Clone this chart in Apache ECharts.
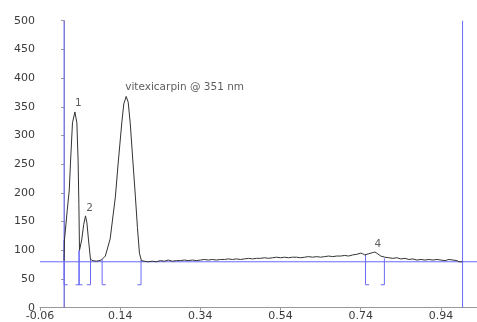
<!DOCTYPE html>
<html>
<head>
<meta charset="utf-8">
<script src="https://cdn.jsdelivr.net/npm/echarts@6/dist/echarts.min.js"></script>
<style>
  html, body { margin: 0; padding: 0; background: #fff; }
  #chart { width: 477px; height: 322px; }
</style>
</head>
<body>
<div id="chart"></div>
<script>
// Retention time (min) and detector response of the trace
const traceTime = [
  0.000, 0.001, 0.008, 0.013, 0.016, 0.021, 0.027, 0.032, 0.035, 0.037, 0.0385,
  0.044, 0.049, 0.0535, 0.057, 0.061, 0.066, 0.072, 0.080, 0.087, 0.093,
  0.103, 0.115, 0.128, 0.135, 0.144, 0.149, 0.155, 0.160, 0.165, 0.172, 0.178, 0.183, 0.188, 0.193,
  0.20, 0.21, 0.22, 0.23, 0.24, 0.25, 0.26, 0.27, 0.28, 0.29,
  0.30, 0.31, 0.32, 0.33, 0.34, 0.35, 0.36, 0.37, 0.38, 0.39,
  0.40, 0.41, 0.42, 0.43, 0.44, 0.45, 0.46, 0.47, 0.48, 0.49,
  0.50, 0.51, 0.52, 0.53, 0.54, 0.55, 0.56, 0.57, 0.58, 0.59,
  0.60, 0.61, 0.62, 0.63, 0.64, 0.65, 0.66, 0.67, 0.68, 0.69,
  0.70, 0.71, 0.72, 0.73, 0.74, 0.745, 0.75, 0.76, 0.77, 0.775, 0.78, 0.79,
  0.80, 0.81, 0.82, 0.83, 0.84, 0.85, 0.86, 0.87, 0.88, 0.89,
  0.90, 0.91, 0.92, 0.93, 0.94, 0.95, 0.96, 0.97, 0.98, 0.985, 0.994
];
const traceSignal = [
  82, 118, 170, 205, 252, 322, 341, 322, 257, 180, 100,
  118, 145, 160, 148, 118, 84, 82, 81, 82, 83,
  90, 120, 193, 252, 322, 355, 368, 358, 322, 252, 193, 140, 95, 82,
  81, 80, 81, 80, 82, 81, 83, 81, 82, 82,
  83, 82, 83, 82, 83, 84, 83, 84, 83, 84,
  84, 85, 84, 85, 84, 85, 86, 85, 86, 86,
  87, 86, 87, 88, 87, 88, 87, 88, 88, 87,
  88, 89, 88, 89, 88, 89, 90, 89, 90, 90,
  91, 90, 92, 93, 95, 94, 92, 94, 96, 97, 95, 90,
  88, 87, 86, 87, 85, 86, 84, 85, 83, 84,
  83, 84, 83, 84, 83, 82, 84, 83, 82, 80, 80
];

// Integration baseline level and window limits
const baselineLevel = 80;
const windowLimits = [0.0, 0.994];

// Peak integration marks: start/end times, top of each mark, bottom level
const markTime = [0.0, 0.038, 0.037, 0.066, 0.095, 0.192, 0.752, 0.799];
const markTop = [118, 100, 100, 84, 84, 83, 92, 86];
const markSide = ['start', 'end', 'start', 'end', 'start', 'end', 'start', 'end'];
const markBottom = 40;

// Peak labels placed at each apex
const peakNames = ['1', '2', 'vitexicarpin @ 351 nm', '4'];
const peakTime = [0.027, 0.0535, 0.155, 0.775];
const peakSignal = [341, 160, 368, 97];

// Axis tick settings
const xMin = -0.06, xMax = 1.03, xStep = 0.2;
const yMin = 0, yMax = 500, yStep = 50;

const blue = '#6a6af7';
const font = 'DejaVu Sans';

const series = [];

// chromatogram trace
series.push({
  type: 'line',
  data: traceTime.map((t, i) => [t, traceSignal[i]]),
  symbol: 'none',
  lineStyle: { color: '#333', width: 1 },
  z: 5
});

// baseline across the plot
series.push({
  type: 'line',
  data: [[xMin, baselineLevel], [xMax, baselineLevel]],
  symbol: 'none',
  lineStyle: { color: blue, width: 1 },
  z: 3
});

// integration window limits, full height
windowLimits.forEach(t => {
  series.push({
    type: 'line',
    data: [[t, yMin], [t, yMax]],
    symbol: 'none',
    lineStyle: { color: blue, width: 1 },
    z: 3
  });
});

// bracket marks for each integrated peak
const arm = 0.009;
markTime.forEach((t, i) => {
  const dir = markSide[i] === 'start' ? 1 : -1;
  series.push({
    type: 'line',
    data: [[t, markTop[i]], [t, markBottom], [t + dir * arm, markBottom]],
    symbol: 'none',
    lineStyle: { color: blue, width: 1 },
    z: 4
  });
});

// peak labels
const labelOffsets = [[3.5, -9], [4, -8], [-1, -9], [3, -8]];
series.push({
  type: 'scatter',
  symbolSize: 0,
  z: 6,
  data: peakNames.map((n, i) => ({
    value: [peakTime[i], peakSignal[i]],
    label: {
      show: true,
      formatter: n,
      position: 'inside',
      align: i === 2 ? 'left' : 'center',
      verticalAlign: 'middle',
      offset: labelOffsets[i],
      color: '#333',
      fontSize: 10.5,
      fontFamily: font
    }
  }))
});

const chart = echarts.init(document.getElementById('chart'), null, { renderer: 'canvas' });
chart.setOption({
  animation: false,
  backgroundColor: '#fff',
  grid: { left: 40, right: 0, top: 20.7, bottom: 14.3, containLabel: false },
  xAxis: {
    type: 'value',
    min: xMin, max: xMax, interval: xStep,
    axisLine: { show: true, lineStyle: { color: '#999' } },
    axisTick: { show: true, length: 3, lineStyle: { color: '#999' } },
    splitLine: { show: false },
    axisLabel: {
      margin: 3,
      color: '#3c3c3c',
      fontSize: 11,
      fontFamily: font,
      showMaxLabel: false,
      formatter: v => v.toFixed(2)
    }
  },
  yAxis: {
    type: 'value',
    min: yMin, max: yMax, interval: yStep,
    axisLine: { show: true, lineStyle: { color: '#999' } },
    axisTick: { show: true, length: 3, lineStyle: { color: '#999' } },
    splitLine: { show: false },
    axisLabel: { margin: 5, color: '#3c3c3c', fontSize: 11, fontFamily: font }
  },
  series: series
});
</script>
</body>
</html>
